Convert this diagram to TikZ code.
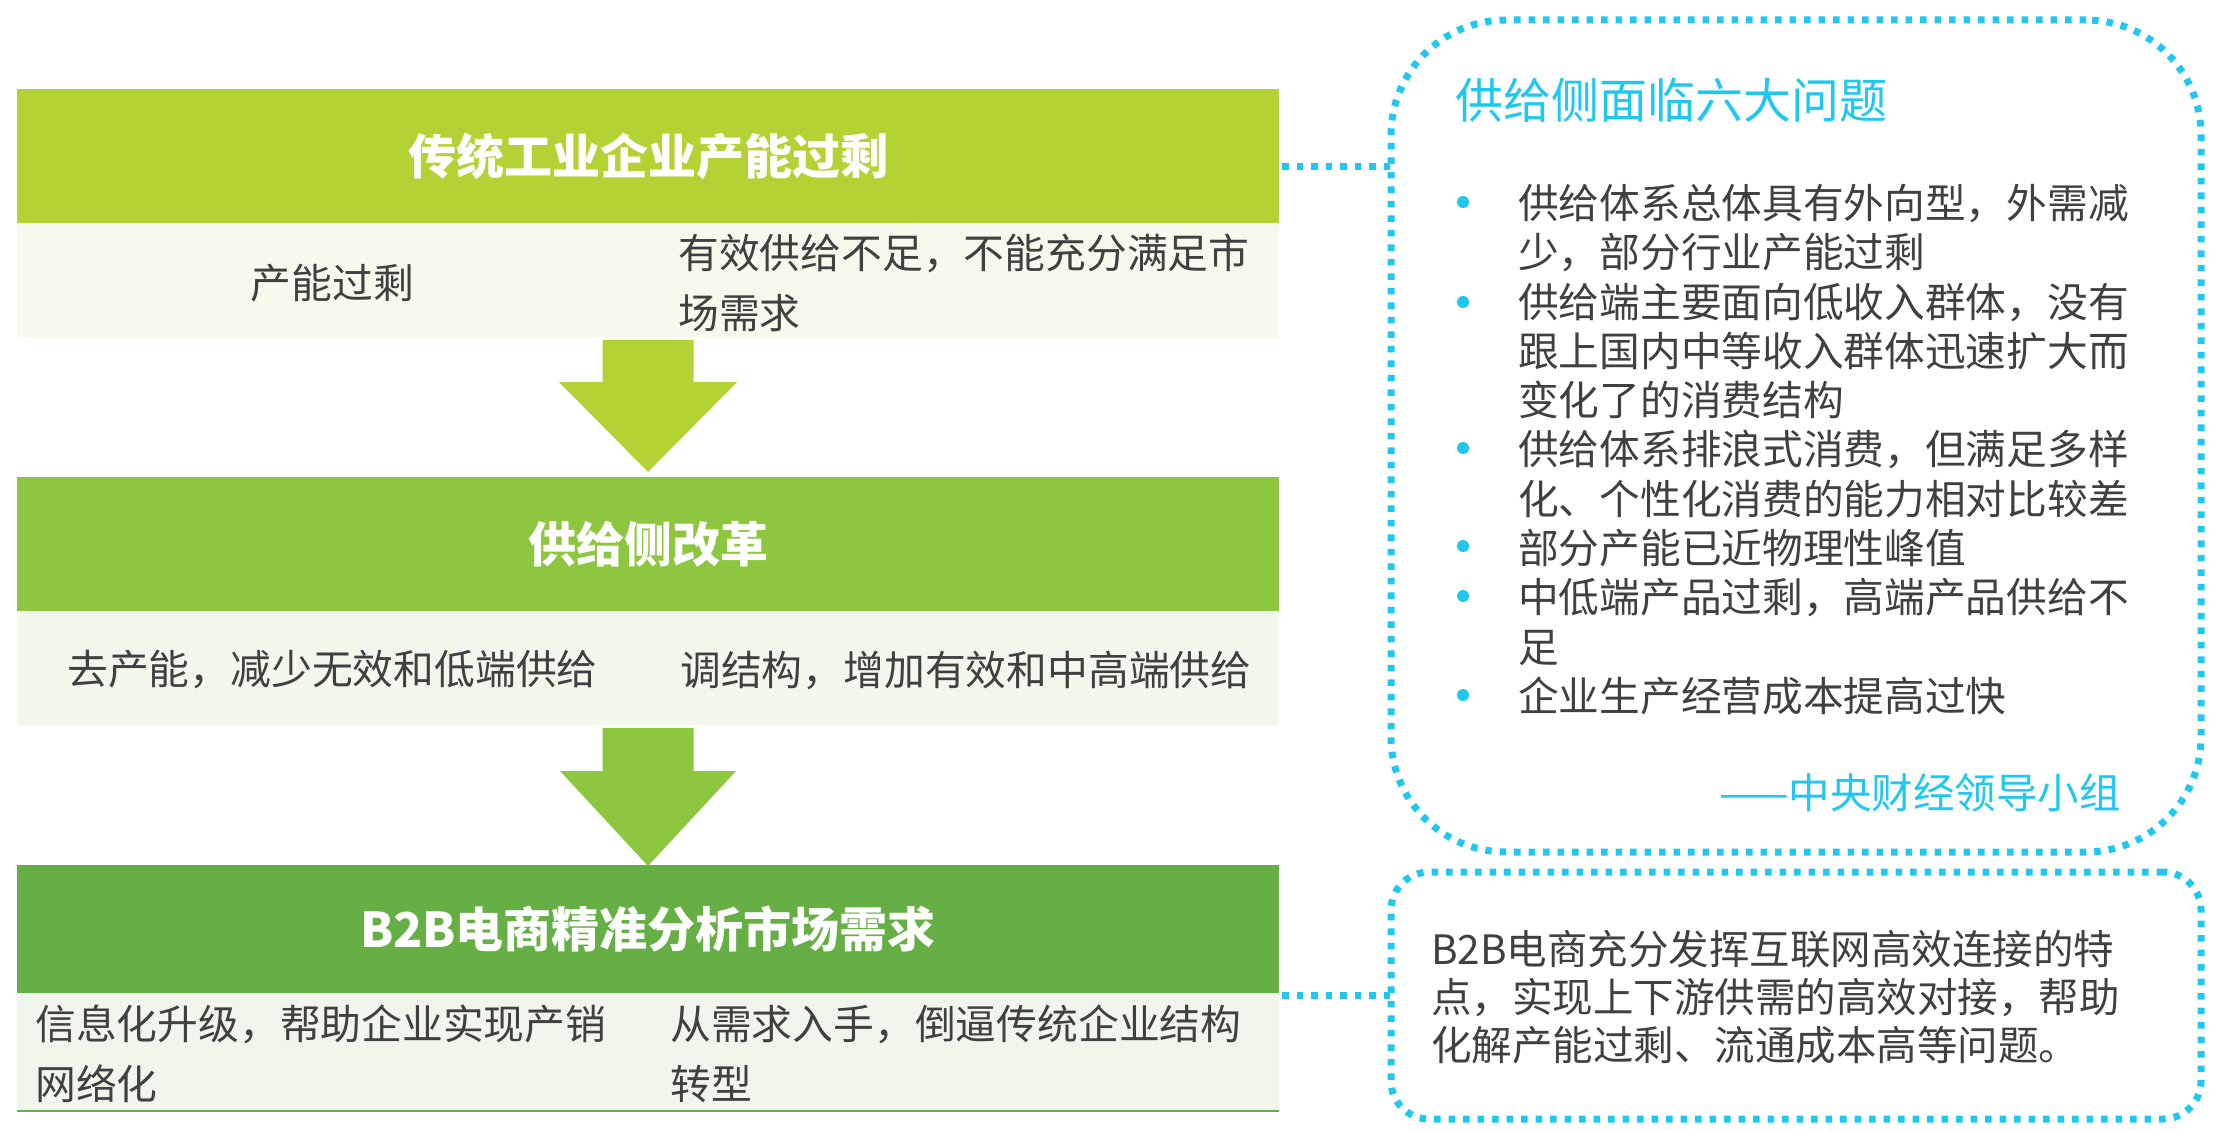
\documentclass[tikz,border=0pt]{standalone}
\usepackage{fontspec}
\setmainfont{Noto Sans CJK SC}
\usetikzlibrary{positioning, calc}

\definecolor{limegreen}{HTML}{B3D335}
\definecolor{midgreen}{HTML}{8DC63F}
\definecolor{deepgreen}{HTML}{66AF45}
\definecolor{palelime}{HTML}{F6F9EB}
\definecolor{palemid}{HTML}{F3F8EC}
\definecolor{paledeep}{HTML}{F0F6EC}
\definecolor{skyline}{HTML}{1EC8F0}
\definecolor{inkgray}{HTML}{404040}

\begin{document}
\begin{tikzpicture}[
    x=1pt, y=-1pt,
    node distance=0pt,
    bar/.style={rectangle, fill=#1, minimum width=1262pt, minimum height=134pt, inner sep=0pt, outer sep=0pt, text=white, font=\fontsize{48}{56}\selectfont\bfseries},
    sub/.style={rectangle, fill=#1, minimum width=1262pt, minimum height=114pt, inner sep=0pt, outer sep=0pt},
    body/.style={inner sep=0pt, text=inkgray, align=left, font=\fontsize{40.8}{60}\selectfont},
    note/.style={inner sep=0pt, text=inkgray, align=left, font=\fontsize{40.7}{49.3}\selectfont},
    dotbox/.style={rectangle, draw=skyline, line width=7pt, dash pattern=on 6.5pt off 8pt, inner sep=0pt, outer sep=0pt, minimum width=810pt},
    dotline/.style={draw=skyline, line width=7pt, dash pattern=on 6.5pt off 8pt},
    cite/.style={inner sep=0pt, text=skyline}
]
\useasboundingbox (0,0) rectangle (2220,1131);

% left column: three stages
\node[bar=limegreen, anchor=north west] (excess) at (17,89) {传统工业企业产能过剩};
\node[sub=palelime, below=of excess] (excesssub) {};
\node[body] (excessleft) at ($(excesssub.west)!0.25!(excesssub.east)+(0,3)$) {产能过剩};
\node[body, anchor=west] (excessright) at ($(excesssub.west)+(661,3)$) {有效供给不足，不能充分满足市\\场需求};

\fill[limegreen] ($(excesssub.south)+(-45.5,3)$) -- ++(91,0) -- ++(0,42) -- ++(43.5,0) -- ++(-89,90) -- ++(-89,-90) -- ++(43.5,0) -- cycle;

\node[bar=midgreen, below=140pt of excesssub] (reform) {供给侧改革};
\node[sub=palemid, below=of reform] (reformsub) {};
\node[body] (reformleft) at ($(reformsub.west)!0.25!(reformsub.east)+(0,2)$) {去产能，减少无效和低端供给};
\node[body, anchor=west] (reformright) at ($(reformsub.west)+(663,2)$) {调结构，增加有效和中高端供给};

\fill[midgreen] ($(reformsub.south)+(-45.5,3)$) -- ++(91,0) -- ++(0,43) -- ++(42.5,0) -- ++(-88,95) -- ++(-88,-95) -- ++(42.5,0) -- cycle;

\node[bar=deepgreen, minimum height=128pt, below=140pt of reformsub] (btob) {B2B电商精准分析市场需求};
\node[sub=paledeep, minimum height=118pt, below=of btob] (btobsub) {};
\node[body, anchor=west] (btobleft) at ($(btobsub.west)+(18,2)$) {信息化升级，帮助企业实现产销\\网络化};
\node[body, anchor=west] (btobright) at ($(btobsub.west)+(653,2)$) {从需求入手，倒逼传统企业结构\\转型};
\draw[deepgreen, line width=2pt] (btobsub.south west) -- (btobsub.south east);

% right column: dotted notes
\node[dotbox, rounded corners=115pt, minimum height=832pt, anchor=north west] (issues) at (1391,20) {};
\node[cite, anchor=west, font=\fontsize{48}{56}\selectfont] (issuestitle) at ($(issues.north west)+(64,80)$) {供给侧面临六大问题};
\node[note, anchor=north west] (issuelist) at (1518,184) {供给体系总体具有外向型，外需减\\少，部分行业产能过剩\\供给端主要面向低收入群体，没有\\跟上国内中等收入群体迅速扩大而\\变化了的消费结构\\供给体系排浪式消费，但满足多样\\化、个性化消费的能力相对比较差\\部分产能已近物理性峰值\\中低端产品过剩，高端产品供给不\\足\\企业生产经营成本提高过快};
\foreach \y in {202,302,448,546,596,695}
  \fill[skyline] (1463,\y) circle (6);
\node[cite, anchor=east, font=\fontsize{41.5}{48}\selectfont] (source) at (2121,793) {——中央财经领导小组};

\node[dotbox, rounded corners=38pt, minimum height=247pt, anchor=north west] (summary) at (1391,872) {};
\node[note, anchor=west, font=\fontsize{40.5}{48}\selectfont] (summarytext) at ($(summary.west)+(40,2)$) {B2B电商充分发挥互联网高效连接的特\\点，实现上下游供需的高效对接，帮助\\化解产能过剩、流通成本高等问题。};

\draw[dotline] ($(excess.east)+(3,11)$) -- ($(issues.west |- excess.east)+(0,11)$);
\draw[dotline] ($(btob.east |- summary.west)+(3,0)$) -- (summary.west);
\end{tikzpicture}
\end{document}
